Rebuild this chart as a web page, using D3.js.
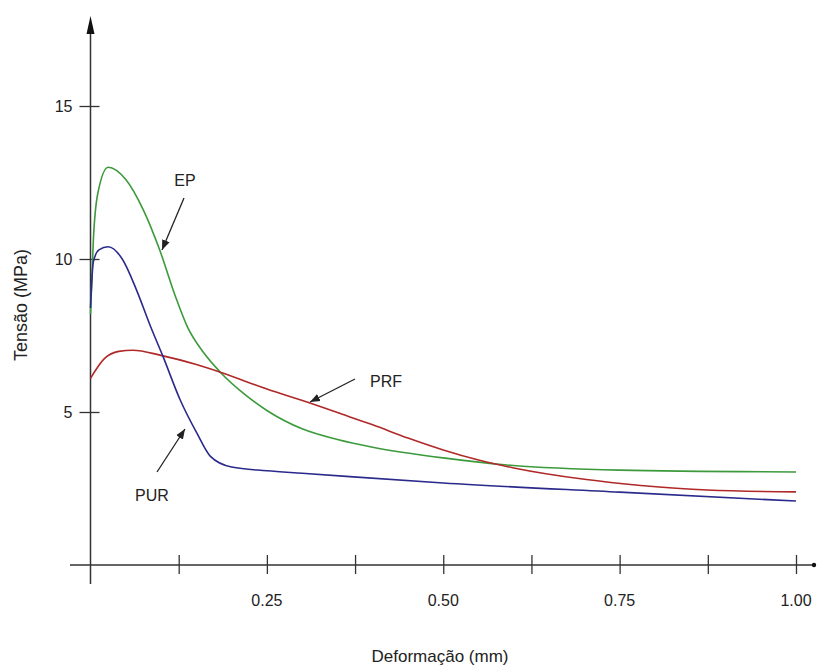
<!DOCTYPE html>
<html>
<head>
<meta charset="utf-8">
<script src="https://cdn.jsdelivr.net/npm/d3@7"></script>
<style>
  body { margin: 0; background: #fff; }
  svg text { font-family: "Liberation Sans", Arial, sans-serif; fill: #222; }
</style>
</head>
<body>
<div id="chart-area"></div>
<script>
// data
var xTicks = [0.125, 0.25, 0.375, 0.5, 0.625, 0.75, 0.875, 1.0];
var xLabels = [0.25, 0.5, 0.75, 1.0];
var yTicks = [5, 10, 15];

var epX  = [0, 0.004, 0.01, 0.025, 0.05, 0.075, 0.098, 0.12, 0.137, 0.16, 0.184, 0.22, 0.25, 0.3, 0.35, 0.4, 0.5, 0.59, 0.75, 1.0];
var epY  = [8.2, 10.6, 12.1, 13.0, 12.6, 11.6, 10.3, 8.8, 7.8, 6.95, 6.3, 5.55, 5.05, 4.45, 4.1, 3.85, 3.5, 3.27, 3.1, 3.04];

var purX = [0, 0.004, 0.012, 0.025, 0.045, 0.065, 0.085, 0.103, 0.127, 0.151, 0.17, 0.2, 0.25, 0.3, 0.5, 0.75, 1.0];
var purY = [8.4, 9.9, 10.3, 10.4, 10.0, 9.0, 7.8, 6.8, 5.4, 4.3, 3.55, 3.2, 3.08, 3.0, 2.68, 2.38, 2.09];

var prfX = [0, 0.02, 0.04, 0.06, 0.1, 0.15, 0.184, 0.25, 0.31, 0.35, 0.4, 0.45, 0.5, 0.55, 0.6, 0.7, 0.78, 0.874, 1.0];
var prfY = [6.1, 6.75, 6.98, 7.02, 6.85, 6.55, 6.3, 5.75, 5.3, 4.98, 4.58, 4.15, 3.76, 3.43, 3.17, 2.8, 2.6, 2.45, 2.39];

var series = [
    {name: "EP",  xs: epX,  ys: epY,  color: "#3c9a3c"},
    {name: "PRF", xs: prfX, ys: prfY, color: "#b02828"},
    {name: "PUR", xs: purX, ys: purY, color: "#2a2a8c"}
];

var svg = d3.select("#chart-area").append("svg")
    .attr("width", 818)
    .attr("height", 670);

var x = d3.scaleLinear().domain([0, 1]).range([90.5, 796]);
var y = d3.scaleLinear().domain([0, 15]).range([565, 106]);

var axisColor = "#333";

// x axis
var xAxis = svg.append("g")
    .attr("transform", "translate(0," + y(0) + ")")
    .call(d3.axisBottom(x).tickValues(xTicks).tickSize(0).tickFormat(""));
xAxis.select(".domain").remove();
xAxis.selectAll(".tick line")
    .attr("y1", -10).attr("y2", 9)
    .attr("stroke", axisColor).attr("stroke-width", 1.3);

svg.selectAll(".xlabel")
    .data(xLabels)
  .enter().append("text")
    .attr("x", (d)=>{return x(d);})
    .attr("y", 606)
    .attr("text-anchor", "middle")
    .style("font-size", "16px")
    .text((d)=>{return d.toFixed(2);});

svg.append("line")
    .attr("x1", 70).attr("x2", 813)
    .attr("y1", y(0)).attr("y2", y(0))
    .attr("stroke", axisColor).attr("stroke-width", 1.5);
svg.append("circle")
    .attr("cx", 814).attr("cy", y(0)).attr("r", 2.2)
    .attr("fill", "#111");

// y axis
var yAxis = svg.append("g")
    .attr("transform", "translate(" + x(0) + ",0)")
    .call(d3.axisLeft(y).tickValues(yTicks).tickSize(0).tickPadding(18));
yAxis.select(".domain").remove();
yAxis.selectAll(".tick line")
    .attr("x1", -11).attr("x2", 9)
    .attr("stroke", axisColor).attr("stroke-width", 1.3);
yAxis.selectAll(".tick text")
    .style("font-size", "16px")
    .style("font-family", "Liberation Sans, Arial, sans-serif")
    .attr("fill", "#222");

svg.append("line")
    .attr("x1", x(0)).attr("x2", x(0))
    .attr("y1", 28).attr("y2", 584)
    .attr("stroke", axisColor).attr("stroke-width", 1.5);
svg.append("path")
    .attr("d", "M" + x(0) + ",16 L" + (x(0) - 4) + ",34 L" + (x(0) + 4) + ",34 Z")
    .attr("fill", "#111");

// axis titles
svg.append("text")
    .attr("x", 440).attr("y", 662)
    .attr("text-anchor", "middle")
    .style("font-size", "17px")
    .text("Deformação (mm)");

svg.append("text")
    .attr("transform", "translate(27,305) rotate(-90)")
    .attr("text-anchor", "middle")
    .style("font-size", "18px")
    .text("Tensão (MPa)");

// curves
var line = d3.line()
    .x((d)=>{return x(d[0]);})
    .y((d)=>{return y(d[1]);})
    .curve(d3.curveMonotoneX);

svg.selectAll(".curve")
    .data(series)
  .enter().append("path")
    .attr("class", "curve")
    .attr("d", (s)=>{return line(d3.zip(s.xs, s.ys));})
    .attr("fill", "none")
    .attr("stroke", (s)=>{return s.color;})
    .attr("stroke-width", 1.6);

// labels with arrows
var defs = svg.append("defs");
defs.append("marker")
    .attr("id", "head")
    .attr("viewBox", "0 0 10 10")
    .attr("refX", 10).attr("refY", 5)
    .attr("markerWidth", 10).attr("markerHeight", 10)
    .attr("markerUnits", "userSpaceOnUse")
    .attr("orient", "auto")
  .append("path")
    .attr("d", "M0,1 L10,5 L0,9 Z")
    .attr("fill", "#222");

var notes = [
    {text: "EP",  tx: 185, ty: 186, x1: 184, y1: 198, x2: 162, y2: 250},
    {text: "PRF", tx: 386, ty: 387, x1: 355, y1: 379, x2: 310, y2: 402},
    {text: "PUR", tx: 152, ty: 501, x1: 157, y1: 472, x2: 185, y2: 429}
];

svg.selectAll(".arrow")
    .data(notes)
  .enter().append("line")
    .attr("x1", (d)=>{return d.x1;}).attr("y1", (d)=>{return d.y1;})
    .attr("x2", (d)=>{return d.x2;}).attr("y2", (d)=>{return d.y2;})
    .attr("stroke", "#222").attr("stroke-width", 1.3)
    .attr("marker-end", "url(#head)");

svg.selectAll(".note")
    .data(notes)
  .enter().append("text")
    .attr("x", (d)=>{return d.tx;}).attr("y", (d)=>{return d.ty;})
    .attr("text-anchor", "middle")
    .style("font-size", "16px")
    .text((d)=>{return d.text;});
</script>
</body>
</html>
